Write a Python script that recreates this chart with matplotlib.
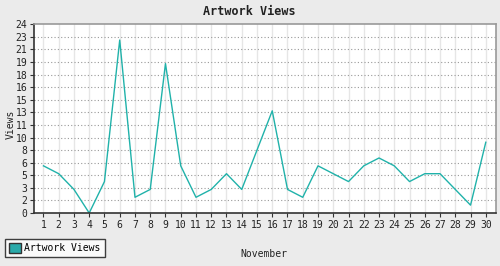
import matplotlib
matplotlib.use("Agg")
import matplotlib.pyplot as plt
from matplotlib.patches import Patch

days = list(range(1, 31))
views = [6, 5, 3, 0, 4, 22, 2, 3, 19, 6, 2, 3, 5, 3, 8, 13, 3, 2, 6, 5,
         4, 6, 7, 6, 4, 5, 5, 3, 1, 9]
y_tick_labels = ["0", "2", "3", "5", "6", "8", "10", "11", "13", "15", "16",
                 "18", "19", "21", "23", "24"]

line_color = "#20b2aa"
bg = "#ebebeb"
font = ["DejaVu Sans Mono"]

fig = plt.figure(figsize=(5.0, 2.66), dpi=100, facecolor=bg)
ax = fig.add_axes([0.0686, 0.1992, 0.9228, 0.7094])
ax.set_facecolor("white")

ax.plot(days, views, color=line_color, linewidth=1.0)

ax.set_xlim(0.4, 30.65)
ax.set_ylim(0, 24)
step = 24 / (len(y_tick_labels) - 1)
y_pos = [i * step for i in range(len(y_tick_labels))]
ax.set_yticks(y_pos)
ax.set_yticklabels(y_tick_labels)
ax.set_xticks(days)
ax.set_xticklabels([str(d) for d in days])

for d in days:
    ax.axvline(d, color="#e6e6e6", linewidth=1.0, zorder=0)
for y in y_pos[1:-1]:
    ax.axhline(y, color="#999999", linewidth=0.8, linestyle=(0, (1, 2)), zorder=0)

for side in ["left", "bottom"]:
    ax.spines[side].set_color("#333333")
    ax.spines[side].set_linewidth(1.2)
for side in ["top", "right"]:
    ax.spines[side].set_color("#999999")
    ax.spines[side].set_linewidth(1.2)

ax.tick_params(axis="both", labelsize=7, length=3, width=0.8, color="#333333",
               labelcolor="#222222", pad=2)
for lbl in ax.get_xticklabels() + ax.get_yticklabels():
    lbl.set_family(font)

ax.set_ylabel("Views", fontsize=7, family=font, color="#222222")
ax.yaxis.set_label_coords(-0.04, 0.47)
ax.set_xlabel("November", fontsize=7, family=font, color="#222222")
ax.xaxis.set_label_coords(0.497, -0.19)
fig.text(0.498, 0.955, "Artwork Views", ha="center", va="center",
         fontsize=8.5, fontweight="bold", family=font, color="#222222")

handle = Patch(facecolor="#2aaaaa", edgecolor="#333333", label="Artwork Views")
leg = fig.legend(handles=[handle], loc="lower left", bbox_to_anchor=(0.01, 0.035),
                 prop={"family": font, "size": 7}, frameon=True, fancybox=False,
                 handlelength=1.2, handleheight=1.2, handletextpad=0.4,
                 borderpad=0.4, borderaxespad=0)
leg.get_frame().set_edgecolor("#111111")
leg.get_frame().set_facecolor("white")
leg.get_frame().set_linewidth(1.0)

fig.savefig("out.png", dpi=100, facecolor=bg)
